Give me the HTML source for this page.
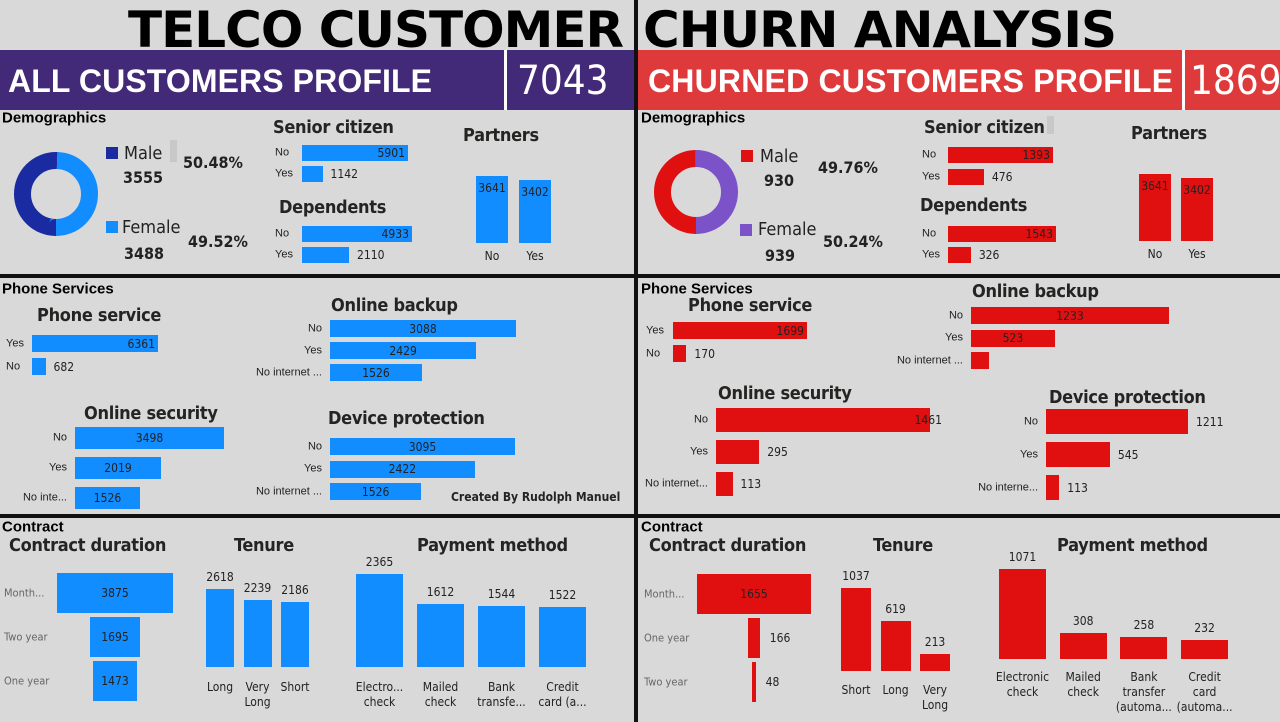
<!DOCTYPE html>
<html><head><meta charset="utf-8">
<style>
html,body{margin:0;padding:0}
body{width:1280px;height:722px;position:relative;overflow:hidden;background:#d9d9d9;font-family:"Liberation Sans",sans-serif;color:#222}
.a{position:absolute}
.t{position:absolute;white-space:nowrap;line-height:1;transform:translateY(-50%)}
</style></head>
<body>
<div id="root"></div>
<script>
// ---------- data ----------
const genderCats=["Male","Female"];
const allGender=[3555,3488];
const churnGender=[930,939];
const ynCats=["No","Yes"];
const allSenior=[5901,1142];
const churnSenior=[1393,476];
const allDependents=[4933,2110];
const churnDependents=[1543,326];
const allPartners=[3641,3402];
const churnPartners=[3641,3402];
const phoneCats=["Yes","No"];
const allPhone=[6361,682];
const churnPhone=[1699,170];
const svcCats=["No","Yes","No internet ..."];
const allBackup=[3088,2429,1526];
const churnBackup=[1233,523,113];
const allSecurity=[3498,2019,1526];
const churnSecurity=[1461,295,113];
const allDevice=[3095,2422,1526];
const churnDevice=[1211,545,113];
const allContractCats=["Month...","Two year","One year"];
const allContract=[3875,1695,1473];
const churnContractCats=["Month...","One year","Two year"];
const churnContract=[1655,166,48];
const allTenureCats=[["Long"],["Very","Long"],["Short"]];
const allTenure=[2618,2239,2186];
const churnTenureCats=[["Short"],["Long"],["Very","Long"]];
const churnTenure=[1037,619,213];
const allPayCats=[["Electro...","check"],["Mailed","check"],["Bank","transfe..."],["Credit","card (a..."]];
const allPay=[2365,1612,1544,1522];
const churnPayCats=[["Electronic","check"],["Mailed","check"],["Bank","transfer","(automa..."],["Credit","card","(automa..."]];
const churnPay=[1071,308,258,232];

const root=document.getElementById('root');
const BLUE="#118dff",RED="#e00f10";

function box(name,x,y,w,h,bg,extra){
  const d=document.createElement('div');
  
  
  d.className='a';
  d.style.cssText+=`left:${x}px;top:${y}px;width:${w}px;height:${h}px;background:${bg};`+(extra||'');
  root.appendChild(d);return d;
}
function txt(name,x,y,s,size,weight,color,align,extra){
  const d=document.createElement('div');
  
  
  d.className='t';
  d.textContent=s;
  let tr='translateY(-50%)';
  if(align==='r')tr='translate(-100%,-50%)';
  if(align==='c')tr='translate(-50%,-50%)';
  d.style.cssText+=`left:${x}px;top:${y}px;font-size:${size}px;font-weight:${weight||'normal'};color:${color||'#222'};transform:${tr};`+(extra||'');
  root.appendChild(d);return d;
}
const TF='font-family:"DejaVu Sans Condensed","Liberation Sans",sans-serif;';
function title(name,x,y,s){return txt(name,x,y,s,18,'bold','#252423','l',TF+'letter-spacing:-0.3px;');}

function hbar(prefix,cats,vals,c){
  const mx=Math.max(...vals);
  vals.forEach((v,i)=>{
    const w=v/mx*c.maxW, y=c.y+i*c.step;
    box(prefix+'-bar-'+i,c.x,y,w,c.h,c.color);
    txt(prefix+'-label-'+i,c.labX,y+c.h/2,cats[i],11,'normal','#222',c.labAlign||'l');
    if(c.hideBelow&&w<c.hideBelow)return;
    if(w<c.thr) txt(prefix+'-value-'+i,c.x+w+8,y+c.h/2,String(v),12,'normal','#222','l',TF);
    else if(c.mode==='right') txt(prefix+'-value-'+i,c.x+w-3,y+c.h/2,String(v),12,'normal','#222','r',TF);
    else if(c.mode==='edge') txt(prefix+'-value-'+i,c.x+w+12,y+c.h/2,String(v),12,'normal','#222','r',TF);
    else txt(prefix+'-value-'+i,c.x+w/2,y+c.h/2,String(v),12,'normal','#222','c',TF);
  });
}
function vbar(prefix,cats,vals,c){
  const mx=Math.max(...vals);
  vals.forEach((v,i)=>{
    const h=v/mx*c.maxH, x=c.x+i*c.step;
    box(prefix+'-bar-'+i,x,c.bottom-h,c.w,h,c.color);
    if(c.inside) txt(prefix+'-value-'+i,x+c.w/2,c.bottom-h+12,String(v),12,'normal','#222','c',TF);
    else txt(prefix+'-value-'+i,x+c.w/2,c.bottom-h-12,String(v),12,'normal','#222','c',TF);
    cats[i].forEach((s,j)=>txt(prefix+'-label-'+i,x+c.w/2,c.labY+j*15,s,12,'normal','#222','c',TF));
  });
}
function funnel(prefix,cats,vals,c){
  const mx=Math.max(...vals);
  vals.forEach((v,i)=>{
    const w=Math.max(2,v/mx*c.maxW), y=c.y+i*c.step;
    box(prefix+'-bar-'+i,c.cx-w/2,y,w,c.h,c.color);
    txt(prefix+'-label-'+i,c.labX,y+c.h/2,cats[i],11,'normal','#666','l',TF);
    if(w>30) txt(prefix+'-value-'+i,c.cx,y+c.h/2,String(v),12,'normal','#222','c',TF);
    else txt(prefix+'-value-'+i,c.cx+w/2+10,y+c.h/2,String(v),12,'normal','#222','l',TF);
  });
}
function donut(prefix,cx,cy,vals,colors){
  const ns='http://www.w3.org/2000/svg';
  const svg=document.createElementNS(ns,'svg');
  
  
  svg.setAttribute('width','100');svg.setAttribute('height','100');
  svg.style.cssText=`position:absolute;left:${cx-50}px;top:${cy-50}px`;
  const tot=vals.reduce((a,b)=>a+b,0);const r=33.5,C=2*Math.PI*r;let off=0;
  vals.forEach((v,i)=>{
    const c=document.createElementNS(ns,'circle');
    
    
    c.setAttribute('cx',50);c.setAttribute('cy',50);c.setAttribute('r',r);
    c.setAttribute('fill','none');c.setAttribute('stroke',colors[i]);c.setAttribute('stroke-width',17);
    const len=v/tot*C;
    c.setAttribute('stroke-dasharray',len+' '+(C-len));
    c.setAttribute('stroke-dashoffset',-off);
    c.setAttribute('transform','rotate(90 50 50)');
    off+=len;svg.appendChild(c);
  });
  root.appendChild(svg);
}

// ---------- frame ----------
box('divider-vertical',634,0,4,722,'#111');
box('divider-top',0,274,1280,4,'#111');
box('divider-bottom',0,514,1280,4,'#111');
box('all-header-band',0,50,634,60,'#432a78');
box('churn-header-band',638,50,642,60,'#df3a3b');
box('all-header-sep',504,50,3,60,'#fff');
box('churn-header-sep',1182,50,3,60,'#fff');
txt('title-left',128,30,'TELCO CUSTOMER',50,'900','#000','l','font-family:"DejaVu Sans","Liberation Sans",sans-serif;letter-spacing:-1px;');
txt('title-right',643,30,'CHURN ANALYSIS',50,'900','#000','l','font-family:"DejaVu Sans","Liberation Sans",sans-serif;letter-spacing:-1px;');
txt('all-profile-title',8,81,'ALL CUSTOMERS PROFILE',32,'bold','#fff','l','letter-spacing:0.1px;');
txt('all-count',517,81,'7043',40,'normal','#fff','l','font-family:"DejaVu Sans Condensed",sans-serif;');
txt('churn-profile-title',648,81,'CHURNED CUSTOMERS PROFILE',32,'bold','#fff','l','letter-spacing:0.2px;');
txt('churn-count',1190,81,'1869',40,'normal','#fff','l','font-family:"DejaVu Sans Condensed",sans-serif;');

[['all',2],['churn',641]].forEach(([p,x])=>{
  txt(p+'-demographics-header',x,118,'Demographics',15,'bold','#000');
  txt(p+'-phone-header',x,289,'Phone Services',15,'bold','#000');
  txt(p+'-contract-header',x,527,'Contract',15,'bold','#000');
});

// ---------- ALL: demographics ----------
donut('all-gender',56,194,allGender,['#1a2aa0',BLUE]);
box('all-male-swatch',106,147,12,12,'#1a2aa0');
txt('all-male-label',124,154,genderCats[0],18,'normal','#222','l',TF);
txt('all-male-count',123,178,String(allGender[0]),16,'bold','#222','l',TF);
txt('all-male-pct',183,163,(allGender[0]/(allGender[0]+allGender[1])*100).toFixed(2)+'%',16,'bold','#222','l',TF);
box('all-scroll-hint',170,140,7,22,'#c8c8c8');
box('all-female-swatch',106,221,12,12,BLUE);
txt('all-female-label',122,228,genderCats[1],18,'normal','#222','l',TF);
txt('all-female-count',124,254,String(allGender[1]),16,'bold','#222','l',TF);
txt('all-female-pct',188,242,(allGender[1]/(allGender[0]+allGender[1])*100).toFixed(2)+'%',16,'bold','#222','l',TF);
title('all-senior-title',273,128,'Senior citizen');
hbar('all-senior',ynCats,allSenior,{x:302,y:145,h:16,step:21,maxW:106,labX:275,mode:'right',thr:50,color:BLUE});
title('all-dependents-title',279,208,'Dependents');
hbar('all-dependents',ynCats,allDependents,{x:302,y:226,h:16,step:21,maxW:110,labX:275,mode:'right',thr:60,color:BLUE});
title('all-partners-title',463,136,'Partners');
vbar('all-partners',[["No"],["Yes"]],allPartners,{x:476,bottom:243,w:32,step:43,maxH:67,color:BLUE,labY:256,inside:true});

// ---------- CHURN: demographics ----------
donut('churn-gender',696,192,churnGender,[RED,'#7b52c8']);
box('churn-male-swatch',741,150,12,12,RED);
txt('churn-male-label',760,157,genderCats[0],18,'normal','#222','l',TF);
txt('churn-male-count',764,181,String(churnGender[0]),16,'bold','#222','l',TF);
txt('churn-male-pct',818,168,(churnGender[0]/(churnGender[0]+churnGender[1])*100).toFixed(2)+'%',16,'bold','#222','l',TF);
box('churn-female-swatch',740,224,12,12,'#7b52c8');
txt('churn-female-label',758,230,genderCats[1],18,'normal','#222','l',TF);
txt('churn-female-count',765,256,String(churnGender[1]),16,'bold','#222','l',TF);
txt('churn-female-pct',823,242,(churnGender[1]/(churnGender[0]+churnGender[1])*100).toFixed(2)+'%',16,'bold','#222','l',TF);
title('churn-senior-title',924,128,'Senior citizen');
box('churn-scroll-hint',1047,116,7,18,'#c8c8c8');
hbar('churn-senior',ynCats,churnSenior,{x:948,y:147,h:16,step:22,maxW:105,labX:922,mode:'right',thr:50,color:RED});
title('churn-dependents-title',920,206,'Dependents');
hbar('churn-dependents',ynCats,churnDependents,{x:948,y:226,h:16,step:21,maxW:108,labX:922,mode:'right',thr:50,color:RED});
title('churn-partners-title',1131,134,'Partners');
vbar('churn-partners',[["No"],["Yes"]],churnPartners,{x:1139,bottom:241,w:32,step:42,maxH:67,color:RED,labY:254,inside:true});

// ---------- ALL: phone services ----------
title('all-phone-title',37,316,'Phone service');
hbar('all-phone',phoneCats,allPhone,{x:32,y:335,h:17,step:23,maxW:126,labX:6,mode:'right',thr:40,color:BLUE});
title('all-backup-title',331,306,'Online backup');
hbar('all-backup',svcCats,allBackup,{x:330,y:320,h:17,step:22,maxW:186,labX:322,labAlign:'r',mode:'center',thr:0,color:BLUE});
title('all-security-title',84,414,'Online security');
hbar('all-security',["No","Yes","No inte..."],allSecurity,{x:75,y:427,h:22,step:30,maxW:149,labX:67,labAlign:'r',mode:'center',thr:0,color:BLUE});
title('all-device-title',328,419,'Device protection');
hbar('all-device',svcCats,allDevice,{x:330,y:438,h:17,step:22.5,maxW:185,labX:322,labAlign:'r',mode:'center',thr:0,color:BLUE});
txt('credit-text',451,497,'Created By Rudolph Manuel',12,'bold','#252423','l',TF);

// ---------- CHURN: phone services ----------
title('churn-phone-title',688,306,'Phone service');
hbar('churn-phone',phoneCats,churnPhone,{x:673,y:322,h:17,step:23,maxW:134,labX:646,mode:'right',thr:40,color:RED});
title('churn-backup-title',972,292,'Online backup');
hbar('churn-backup',svcCats,churnBackup,{x:971,y:307,h:17,step:22.5,maxW:198,labX:963,labAlign:'r',mode:'center',thr:0,hideBelow:25,color:RED});
title('churn-security-title',718,394,'Online security');
hbar('churn-security',["No","Yes","No internet..."],churnSecurity,{x:716,y:408,h:24,step:32,maxW:214,labX:708,labAlign:'r',mode:'edge',thr:100,color:RED});
title('churn-device-title',1049,398,'Device protection');
hbar('churn-device',["No","Yes","No interne..."],churnDevice,{x:1046,y:409,h:25,step:33,maxW:142,labX:1038,labAlign:'r',mode:'out',thr:999,color:RED});

// ---------- ALL: contract ----------
title('all-contract-title',9,546,'Contract duration');
funnel('all-contract',allContractCats,allContract,{cx:115,y:573,h:40,step:44,maxW:116,color:BLUE,labX:4});
title('all-tenure-title',234,546,'Tenure');
vbar('all-tenure',allTenureCats,allTenure,{x:206,bottom:667,w:28,step:37.5,maxH:78,color:BLUE,labY:687});
title('all-payment-title',417,546,'Payment method');
vbar('all-payment',allPayCats,allPay,{x:356,bottom:667,w:47,step:61,maxH:93,color:BLUE,labY:687});

// ---------- CHURN: contract ----------
title('churn-contract-title',649,546,'Contract duration');
funnel('churn-contract',churnContractCats,churnContract,{cx:754,y:574,h:40,step:44,maxW:114,color:RED,labX:644});
title('churn-tenure-title',873,546,'Tenure');
vbar('churn-tenure',churnTenureCats,churnTenure,{x:841,bottom:671,w:30,step:39.5,maxH:83,color:RED,labY:690});
title('churn-payment-title',1057,546,'Payment method');
vbar('churn-payment',churnPayCats,churnPay,{x:999,bottom:659,w:47,step:60.7,maxH:90,color:RED,labY:677});
</script>
</body></html>
